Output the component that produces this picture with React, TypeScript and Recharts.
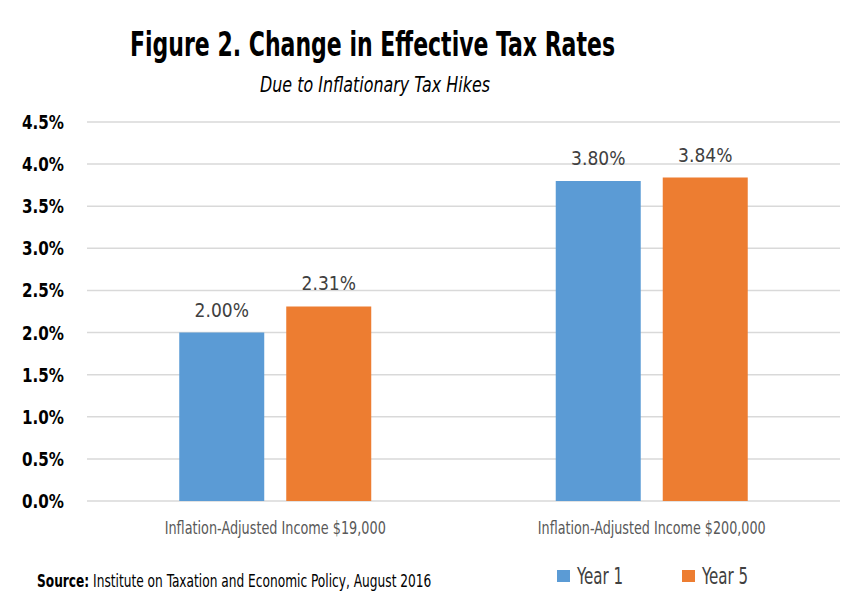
import { BarChart, Bar, XAxis, YAxis, CartesianGrid, LabelList } from "recharts";

const categories = ["Inflation-Adjusted Income $19,000", "Inflation-Adjusted Income $200,000"];
const year1 = [2.0, 3.8];
const year5 = [2.31, 3.84];
const yTicks = [0, 0.5, 1.0, 1.5, 2.0, 2.5, 3.0, 3.5, 4.0, 4.5];
const seriesNames = ["Year 1", "Year 5"];

const BLUE = "#5b9bd5";
const ORANGE = "#ed7d31";
const FONT = "'DejaVu Sans Condensed', 'DejaVu Sans', sans-serif";

const data = categories.map((name, i) => ({ name, year1: year1[i], year5: year5[i] }));

// narrow the wider fallback font to roughly match the condensed original
const XTick = (props: any) => {
  const { x, y, payload } = props;
  const label = String(payload.value);
  return (
    <text
      x={x}
      y={y + 27}
      textAnchor="middle"
      fill="#595959"
      fontSize={17}
      fontFamily={FONT}
      textLength={label.length * 6.7}
      lengthAdjust="spacingAndGlyphs"
    >
      {label}
    </text>
  );
};

const YTick = (props: any) => {
  const { x, y, payload } = props;
  return (
    <text
      x={x}
      y={y + 7}
      textAnchor="end"
      fill="#000"
      fontSize={19}
      fontWeight="bold"
      fontFamily={FONT}
      textLength={42}
      lengthAdjust="spacingAndGlyphs"
    >
      {`${Number(payload.value).toFixed(1)}%`}
    </text>
  );
};

const fmt = (v: number) => `${v.toFixed(2)}%`;

const App = () => {
  return (
    <div style={{ position: "absolute", left: 0, top: 0, width: 852, height: 608, background: "#fff" }}>
      <BarChart
        width={852}
        height={608}
        data={data}
        margin={{ top: 122, right: 12, left: 0, bottom: 77 }}
        barCategoryGap="24.5%"
        barGap={22}
      >
        <CartesianGrid horizontal vertical={false} stroke="#d9d9d9" strokeWidth={1.5} />
        <XAxis
          dataKey="name"
          axisLine={false}
          tickLine={false}
          height={30}
          tickMargin={0}
          interval={0}
          tick={<XTick />}
        />
        <YAxis
          domain={[0, 4.5]}
          ticks={yTicks}
          axisLine={false}
          tickLine={false}
          width={87}
          tickMargin={17}
          tick={<YTick />}
        />
        <Bar dataKey="year1" name={seriesNames[0]} fill={BLUE} isAnimationActive={false}>
          <LabelList dataKey="year1" position="top" offset={16} fill="#404040" fontSize={19} fontFamily={FONT} formatter={fmt} />
        </Bar>
        <Bar dataKey="year5" name={seriesNames[1]} fill={ORANGE} isAnimationActive={false}>
          <LabelList dataKey="year5" position="top" offset={16} fill="#404040" fontSize={19} fontFamily={FONT} formatter={fmt} />
        </Bar>
      </BarChart>
      <svg width={852} height={608} style={{ position: "absolute", left: 0, top: 0, pointerEvents: "none" }}>
        <text x={130} y={56} fontSize={33} fontWeight="bold" fontFamily={FONT} fill="#000" textLength={485} lengthAdjust="spacingAndGlyphs">
          Figure 2. Change in Effective Tax Rates
        </text>
        <text x={260} y={92} fontSize={21} fontStyle="italic" fontFamily={FONT} fill="#000" textLength={230} lengthAdjust="spacingAndGlyphs">
          Due to Inflationary Tax Hikes
        </text>
        {seriesNames.map((name, i) => (
          <g key={name}>
            <rect x={557 + i * 125} y={570} width={13} height={12} fill={i === 0 ? BLUE : ORANGE} />
            <text x={577 + i * 125} y={584} fontSize={23} fontFamily={FONT} fill="#404040" textLength={46} lengthAdjust="spacingAndGlyphs">
              {name}
            </text>
          </g>
        ))}
      </svg>
      <div
        style={{
          position: "absolute",
          left: 37,
          top: 571,
          fontFamily: FONT,
          fontSize: 18,
          lineHeight: "20px",
          color: "#000",
          whiteSpace: "nowrap",
          transform: "scaleX(0.753)",
          transformOrigin: "left top",
        }}
      >
        <b>Source:</b> Institute on Taxation and Economic Policy, August 2016
      </div>
    </div>
  );
};

export default App;
